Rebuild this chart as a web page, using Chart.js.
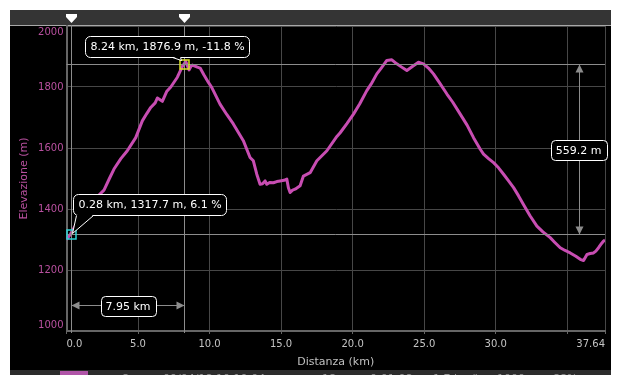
<!DOCTYPE html>
<html>
<head>
<meta charset="utf-8">
<script src="https://cdn.jsdelivr.net/npm/chart.js@4.4.1/dist/chart.umd.min.js"></script>
<style>
  html, body { margin: 0; padding: 0; background: #fff; }
  #panel { position: absolute; left: 10px; top: 10px; width: 601px; height: 365px; background: #000; }
  canvas { display: block; }
</style>
</head>
<body>
<div id="panel"><canvas id="profile" width="601" height="365"></canvas></div>
<script>
// elevation profile
const distKm = [
  0.0, 0.28, 0.7, 1.22, 1.7, 2.15, 2.62, 3.0, 3.32, 3.8, 4.25, 4.84, 5.3, 5.6, 5.89, 6.2, 6.35, 6.7, 7.0, 7.29,
  7.75, 8.1, 8.24, 8.33, 8.57, 8.7, 8.8, 9.15, 9.34, 9.6, 9.92, 10.15, 10.73, 11.2, 11.66, 12.36, 12.83, 13.06, 13.3, 13.53,
  13.7, 13.88, 14.0, 14.2, 14.46, 14.7, 14.93, 15.2, 15.4, 15.51, 15.63, 15.8, 15.98, 16.33, 16.56, 17.03, 17.5, 18.2, 18.9, 19.13,
  19.6, 20.06, 20.5, 20.99, 21.3, 21.69, 22.0, 22.39, 22.74, 23.09, 23.4, 23.79, 24.2, 24.6, 24.95, 25.3, 25.65, 26.1, 26.59, 27.0,
  27.52, 28.0, 28.45, 28.92, 29.15, 29.5, 29.85, 30.2, 30.55, 30.9, 31.25, 31.6, 31.94, 32.4, 32.88, 33.3, 33.81, 34.1, 34.51, 34.85,
  35.21, 35.6, 35.91, 36.14, 36.38, 36.6, 36.84, 37.0, 37.19, 37.4, 37.54, 37.64
];
const elevM = [
  1300, 1317.7, 1352, 1393, 1420, 1440, 1462, 1500, 1531, 1565, 1591, 1634, 1689, 1712, 1733, 1748, 1764, 1753, 1785, 1800,
  1832, 1868, 1876.9, 1884, 1856, 1868, 1872, 1865, 1862, 1840, 1815, 1799, 1744, 1710, 1679, 1624, 1569, 1558, 1514, 1481,
  1483, 1492, 1481, 1487, 1486, 1490, 1492, 1494, 1498, 1470, 1454, 1462, 1465, 1476, 1508, 1519, 1558, 1591, 1638, 1650,
  1680, 1711, 1745, 1788, 1810, 1843, 1862, 1887, 1889, 1876, 1866, 1854, 1868, 1881, 1876, 1862, 1843, 1812, 1777, 1750,
  1711, 1675, 1634, 1596, 1580, 1565, 1552, 1535, 1514, 1492, 1470, 1443, 1415, 1378, 1344, 1325, 1306, 1292, 1273, 1264,
  1256, 1245, 1235, 1231, 1251, 1254, 1256, 1262, 1273, 1287, 1295, 1298
];

const xTicks = [0, 5, 10, 15, 20, 25, 30, 35, 37.64];
const xTickLabels = ['0.0', '5.0', '10.0', '15.0', '20.0', '25.0', '30.0', '', '37.64'];

const markerA = { km: 0.28, m: 1317.7, text: '0.28 km, 1317.7 m, 6.1 %' };
const markerB = { km: 8.24, m: 1876.9, text: '8.24 km, 1876.9 m, -11.8 %' };
const spanText = '7.95 km';
const riseText = '559.2 m';

// cut-off table row under the chart
const footerCells = [['8', 112], ['09/04/18 10:10:04', 153], ['18', 312], ['0:01:08', 360], ['1.7 km/h', 423], ['1000', 487], ['88%', 543]];

const FONT = '"DejaVu Sans", Verdana, sans-serif';
const lineColor = '#c84db2';
const markColor = '#8c8c8c';

function boxPath(ctx, x, y, w, h, r) {
  ctx.beginPath();
  ctx.moveTo(x + r, y);
  ctx.lineTo(x + w - r, y);
  ctx.arcTo(x + w, y, x + w, y + r, r);
  ctx.lineTo(x + w, y + h - r);
  ctx.arcTo(x + w, y + h, x + w - r, y + h, r);
  ctx.lineTo(x + r, y + h);
  ctx.arcTo(x, y + h, x, y + h - r, r);
  ctx.lineTo(x, y + r);
  ctx.arcTo(x, y, x + r, y, r);
  ctx.closePath();
}

function labelBox(ctx, text, cx, cy) {
  ctx.font = '11px ' + FONT;
  const w = Math.round(ctx.measureText(text).width) + 10;
  const h = 20;
  const x = Math.round(cx - w / 2) + 0.5, y = Math.round(cy - h / 2) + 0.5;
  boxPath(ctx, x, y, w, h, 4);
  ctx.fillStyle = '#000';
  ctx.fill();
  ctx.strokeStyle = '#fff';
  ctx.lineWidth = 1;
  ctx.stroke();
  ctx.fillStyle = '#fff';
  ctx.textAlign = 'center';
  ctx.textBaseline = 'middle';
  ctx.fillText(text, cx, y + h / 2 + 0.5);
}

function callout(ctx, text, left, top, w, h, b1, b2, tipX, tipY) {
  boxPath(ctx, left + 0.5, top + 0.5, w, h, 5);
  ctx.fillStyle = '#000';
  ctx.fill();
  ctx.strokeStyle = '#fff';
  ctx.lineWidth = 1;
  ctx.stroke();
  const by = top + h + 0.5;
  ctx.beginPath();
  ctx.moveTo(b1, by - 1);
  ctx.lineTo(tipX, tipY);
  ctx.lineTo(b2, by - 1);
  ctx.closePath();
  ctx.fill();
  ctx.beginPath();
  ctx.moveTo(b1, by);
  ctx.lineTo(tipX, tipY);
  ctx.lineTo(b2, by);
  ctx.stroke();
  ctx.font = '11px ' + FONT;
  ctx.fillStyle = '#fff';
  ctx.textAlign = 'center';
  ctx.textBaseline = 'middle';
  ctx.fillText(text, left + w / 2 + 0.5, top + h / 2 + 1);
}

function arrowHead(ctx, x, y, dx, dy) {
  // tip at (x,y), pointing along (dx,dy)
  const len = 8, half = 4;
  ctx.beginPath();
  ctx.moveTo(x, y);
  ctx.lineTo(x - dx * len - dy * half, y - dy * len + dx * half);
  ctx.lineTo(x - dx * len + dy * half, y - dy * len - dx * half);
  ctx.closePath();
  ctx.fill();
}

const overlay = {
  id: 'overlay',
  beforeDraw(chart) {
    const ctx = chart.ctx;
    ctx.save();
    ctx.fillStyle = '#343434';
    ctx.fillRect(0, 0, chart.width, 15);
    ctx.fillStyle = '#a8a8a8';
    ctx.fillRect(0, 15, chart.width, 1);
    // footer strip (mostly hidden)
    ctx.beginPath();
    ctx.rect(0, 360, chart.width, 5);
    ctx.clip();
    ctx.fillStyle = '#2c2c2c';
    ctx.fillRect(0, 360, chart.width, 5);
    ctx.fillStyle = '#b055a8';
    ctx.fillRect(50, 361, 28, 4);
    ctx.fillStyle = '#9a9a9a';
    ctx.font = '11px ' + FONT;
    ctx.textAlign = 'left';
    ctx.textBaseline = 'alphabetic';
    footerCells.forEach(([t, x]) => ctx.fillText(t, x, 372));
    ctx.restore();
  },
  afterDatasetsDraw(chart) {
    const ctx = chart.ctx;
    const xs = chart.scales.x, ys = chart.scales.y, area = chart.chartArea;
    const ax = Math.round(xs.getPixelForValue(markerA.km)) + 0.5;
    const ay = Math.round(ys.getPixelForValue(markerA.m)) + 0.5;
    const bx = Math.round(xs.getPixelForValue(markerB.km)) + 0.5;
    const by = Math.round(ys.getPixelForValue(markerB.m)) + 0.5;
    ctx.save();

    // cursor lines
    ctx.strokeStyle = markColor;
    ctx.lineWidth = 1;
    ctx.beginPath();
    [ax, bx].forEach(x => { ctx.moveTo(x, 15); ctx.lineTo(x, area.bottom + 2); });
    [ay, by].forEach(y => { ctx.moveTo(area.left, y); ctx.lineTo(area.right, y); });
    ctx.stroke();

    // cursor handles in the top bar
    ctx.fillStyle = '#fff';
    [ax, bx].forEach(x => {
      ctx.beginPath();
      ctx.moveTo(x - 5.5, 4);
      ctx.lineTo(x + 5.5, 4);
      ctx.lineTo(x + 5.5, 7);
      ctx.lineTo(x, 13);
      ctx.lineTo(x - 5.5, 7);
      ctx.closePath();
      ctx.fill();
    });

    // distance arrow
    const arrowY = Math.round(area.bottom - 26) + 0.5;
    ctx.strokeStyle = markColor;
    ctx.fillStyle = markColor;
    ctx.beginPath();
    ctx.moveTo(ax, arrowY);
    ctx.lineTo(bx, arrowY);
    ctx.stroke();
    arrowHead(ctx, ax, arrowY, -1, 0);
    arrowHead(ctx, bx, arrowY, 1, 0);
    labelBox(ctx, spanText, (ax + bx) / 2, arrowY);

    // elevation arrow
    const arrowX = Math.round(area.right - 26) + 0.5;
    ctx.strokeStyle = markColor;
    ctx.fillStyle = markColor;
    ctx.beginPath();
    ctx.moveTo(arrowX, by);
    ctx.lineTo(arrowX, ay);
    ctx.stroke();
    arrowHead(ctx, arrowX, by, 0, -1);
    arrowHead(ctx, arrowX, ay, 0, 1);
    labelBox(ctx, riseText, arrowX - 1, (ay + by) / 2);

    // marker squares
    ctx.lineWidth = 1.5;
    ctx.strokeStyle = '#2fd4d8';
    ctx.strokeRect(ax - 4.5, ay - 4.5, 9, 9);
    ctx.strokeStyle = '#d9e21e';
    ctx.strokeRect(bx - 4.5, by - 4.5, 9, 9);

    // callouts
    ctx.font = '11px ' + FONT;
    const wb = Math.round(ctx.measureText(markerB.text).width) + 10;
    callout(ctx, markerB.text, Math.round(bx + 64 - wb), Math.round(by - 29), wb, 21, bx - 12, bx - 4, bx - 3, by - 4);
    const wa = Math.round(ctx.measureText(markerA.text).width) + 10;
    callout(ctx, markerA.text, Math.round(ax + 1), Math.round(ay - 41), wa, 21, ax + 5, ax + 22, ax + 1, ay - 1);

    ctx.restore();
  }
};

const ctx = document.getElementById('profile').getContext('2d');

new Chart(ctx, {
  type: 'line',
  data: {
    datasets: [{
      label: 'Elevazione',
      data: distKm.map((d, i) => ({ x: d, y: elevM[i] })),
      borderColor: lineColor,
      borderWidth: 3,
      pointRadius: 0,
      tension: 0,
      fill: false,
      borderJoinStyle: 'round'
    }]
  },
  options: {
    responsive: false,
    animation: false,
    layout: { padding: { top: 16, right: 6, left: 0, bottom: 0 } },
    plugins: {
      legend: { display: false },
      tooltip: { enabled: false }
    },
    scales: {
      x: {
        type: 'linear',
        min: 0,
        max: 37.64,
        afterBuildTicks: s => { s.ticks = xTicks.map(v => ({ value: v })); },
        afterFit: s => { s.height = 44; },
        ticks: {
          align: 'inner',
          autoSkip: false,
          maxRotation: 0,
          padding: 4,
          color: '#c4c4c4',
          font: { family: FONT, size: 10 },
          callback: (v, i) => xTickLabels[i]
        },
        grid: { color: '#474747', tickLength: 3, tickColor: '#666' },
        border: { color: '#666', width: 2 },
        title: {
          display: true,
          text: 'Distanza (km)',
          color: '#c0c0c0',
          font: { family: FONT, size: 11 },
          padding: { top: 2, bottom: 6 }
        }
      },
      y: {
        min: 1000,
        max: 2000,
        afterFit: s => { s.width = 56.5; },
        ticks: {
          stepSize: 200,
          padding: 3,
          color: '#b8509f',
          font: { family: FONT, size: 10 },
          callback: v => v === 1000 ? ['1000', ''] : v === 2000 ? ['', '2000'] : String(v)
        },
        grid: { color: '#474747', drawTicks: false },
        border: { color: '#666', width: 2 },
        title: {
          display: true,
          text: 'Elevazione (m)',
          color: '#b8509f',
          font: { family: FONT, size: 11 },
          padding: { top: 8, bottom: 0 }
        }
      }
    }
  },
  plugins: [overlay]
});
</script>
</body>
</html>
